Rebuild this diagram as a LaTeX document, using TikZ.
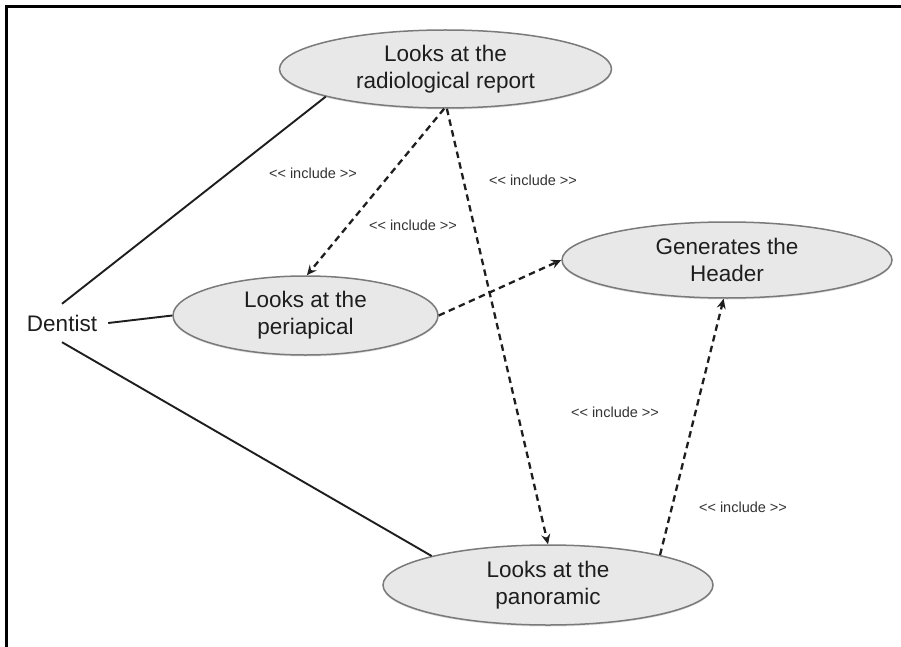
\documentclass[tikz,border=0pt]{standalone}
\usepackage{fontspec}
\setmainfont{Liberation Sans}[Ligatures=TeXOff]
\usetikzlibrary{shapes.geometric,arrows.meta,shadows}
\definecolor{ucfill}{HTML}{E8E8E8}
\definecolor{ucdraw}{HTML}{7A7A7A}
\definecolor{ink}{HTML}{1E1E1E}
\definecolor{lbl}{HTML}{333333}
\tikzset{
  usecase/.style={ellipse, draw=ucdraw, fill=ucfill, line width=1.5pt, inner sep=0pt,
    align=center, font=\fontsize{22.5}{27}\selectfont, text=ink,
    drop shadow={shadow xshift=0pt, shadow yshift=-1.5pt, opacity=0.25}},
  assoc/.style={draw=ink, line width=1.9pt},
  incl/.style={draw=ink, line width=2.3pt, dash pattern=on 6.5pt off 4.5pt,
    -{Stealth[length=10pt,width=9pt,inset=3.5pt]}},
  inclabel/.style={font=\fontsize{14.5}{16}\selectfont, text=lbl, inner sep=0pt},
}
\begin{document}
\begin{tikzpicture}[x=1pt,y=-1pt]
\useasboundingbox (0,0) rectangle (901,647);
\fill[white] (0,0) rectangle (901,647);
\draw[black, line width=2.8pt] (6.5,647) -- (6.5,6.5) -- (901,6.5);

\node[usecase, minimum width=332pt, minimum height=78pt] (T) at (445.5,69) {Looks at the\\radiological report};
\node[usecase, minimum width=265pt, minimum height=79pt] (P) at (305.5,315.5) {Looks at the\\periapical};
\node[usecase, minimum width=330pt, minimum height=76pt] (H) at (727,260) {Generates the\\Header};
\node[usecase, minimum width=330pt, minimum height=80pt] (N) at (548,585) {Looks at the\\panoramic};

\node[font=\fontsize{22.5}{27}\selectfont, text=ink, text height=16pt, text depth=0pt, inner sep=11pt] (D) at (62,323) {Dentist};

\draw[assoc] (D.north) -- (T.193);
\draw[assoc] (D.east) -- (P.west);
\draw[assoc] (D.south) -- (N.166);

\draw[incl] (T.268) -- (P.88);
\draw[incl] (T.272) -- (N.north);
\draw[incl] (P.east) -- (H.west);
\draw[incl] (N.15) -- (H.265);

\node[inclabel] (L1) at (313,173) {<< include >>};
\node[inclabel] (L2) at (413,225) {<< include >>};
\node[inclabel] (L3) at (533,180) {<< include >>};
\node[inclabel] (L4) at (615,412) {<< include >>};
\node[inclabel] (L5) at (743,507) {<< include >>};
\end{tikzpicture}
\end{document}
